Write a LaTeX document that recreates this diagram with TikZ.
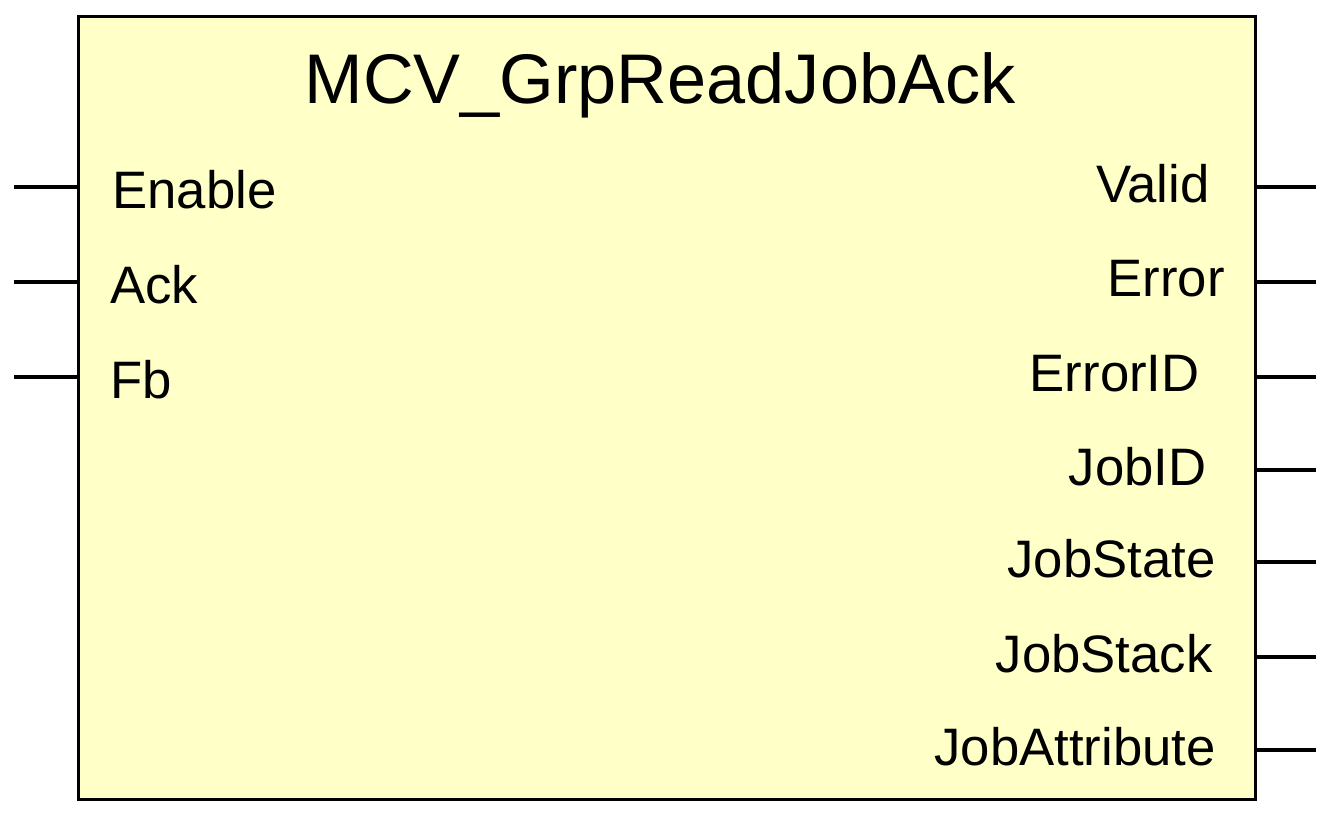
\documentclass[tikz,border=0pt]{standalone}
\usepackage{fontspec}
\setmainfont{Liberation Sans}
\definecolor{fbfill}{HTML}{FFFFC8}
\begin{document}
\begin{tikzpicture}[x=0.02cm,y=-0.02cm,
  pin/.style={line width=1.8pt},
  lbl/.style={font=\fontsize{30}{36}\selectfont, inner sep=0pt}]
\useasboundingbox (0,0) rectangle (1331,815);
\node[draw, line width=1.8pt, fill=fbfill, minimum width=1177*0.02cm, minimum height=783*0.02cm, anchor=north west] (box) at (77,15) {};
\node[font=\fontsize{40}{48}\selectfont, inner sep=0pt] (title) at (660,85) {MCV\_GrpReadJobAck};
\foreach \n/\t/\y/\lx in {i1/Enable/187/112, i2/Ack/282/110, i3/Fb/377/110}{
  \coordinate (\n p) at (14,\y);
  \coordinate (\n b) at (77,\y);
  \draw[pin] (\n p) -- (\n b);
  \node[lbl, anchor=west] (\n) at (\lx,\y+3) {\t};
}
\foreach \n/\t/\y/\rx in {o1/Valid/187/1210, o2/Error/282/1225, o3/ErrorID/377/1200, o4/JobID/470/1207, o5/JobState/562/1216, o6/JobStack/657/1213, o7/JobAttribute/750/1216}{
  \coordinate (\n b) at (1254,\y);
  \coordinate (\n p) at (1316,\y);
  \draw[pin] (\n b) -- (\n p);
  \node[lbl, anchor=east] (\n) at (\rx,\y-3) {\t};
}
\end{tikzpicture}
\end{document}
